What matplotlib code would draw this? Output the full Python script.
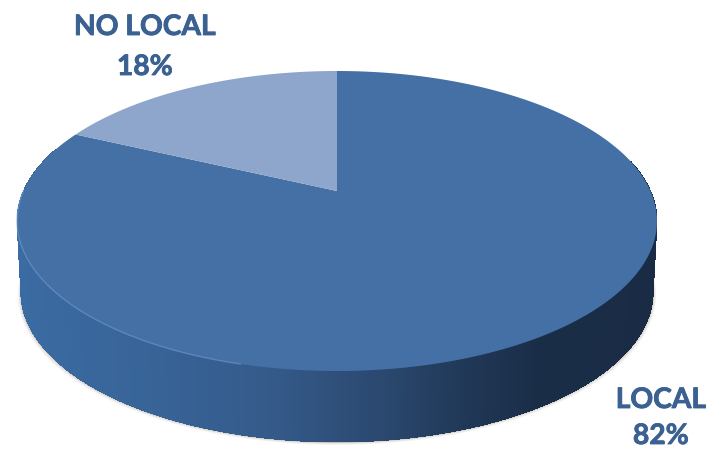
import numpy as np
import matplotlib
matplotlib.use("Agg")
import matplotlib.pyplot as plt
import matplotlib.patheffects as pe
from matplotlib.colors import LinearSegmentedColormap

categories = ["LOCAL", "NO LOCAL"]
shares = [82, 18]
slice_colors = ["#4470A6", "#8EA5CC"]
label_color = "#3A6191"

fig = plt.figure(figsize=(7.09, 4.52), dpi=100)
ax = fig.add_axes([0, 0, 1, 1])
ax.set_xlim(0, 709)
ax.set_ylim(452, 0)
ax.axis("off")

APEX = (337.0, 192.0)
RX, RY, K = 313.5, 144.0, 0.2
DEPTH = 71.0


def project(theta, r=1.0, dy=0.0, sx=1.0):
    """theta is clockwise from 12 o'clock on the pie disc."""
    u = r * np.sin(theta)
    v = r * np.cos(theta)
    w = 1 + K * v
    return APEX[0] + sx * RX * u / w, APEX[1] - RY * v / w + dy


# slice angles: NO LOCAL ends at 12 o'clock, LOCAL runs clockwise from it
local_end = 2 * np.pi * shares[0] / sum(shares)
th_local = np.linspace(0, local_end, 400)
th_nolocal = np.linspace(local_end, 2 * np.pi, 120)

# soft shadow below the side wall
th_all = np.linspace(np.pi * 0.40, np.pi * 1.62, 300)
for grow, alpha in [(3.0, 0.06), (2.0, 0.10), (1.0, 0.16)]:
    xb, yb = project(th_all, dy=DEPTH + grow, sx=0.988 + grow / 320)
    xt, yt = project(th_all[::-1])
    ax.fill(np.r_[xb, xt], np.r_[yb, yt], color="#6b6250", alpha=alpha, lw=0, zorder=1)

# side wall, shaded strip by strip; each strip overlaps the next to hide seams
side_cmap = LinearSegmentedColormap.from_list(
    "side",
    [(0.0, "#3A6BA2"), (0.22, "#386397"), (0.40, "#345A89"), (0.55, "#2C4A72"),
     (0.72, "#1F3654"), (0.82, "#1A2D47"), (1.0, "#1A2C45")],
)
th_side = np.linspace(np.pi * 1.60, np.pi * 0.44, 360)
for a, b in zip(th_side[:-1], th_side[1:]):
    seg = np.linspace(a, b - 0.03, 6)
    xt, yt = project(seg)
    xb, yb = project(seg, dy=DEPTH, sx=0.988)
    pos = (project(np.array([a]))[0][0] - 17) / 640
    ax.fill(np.r_[xt, xb[::-1]], np.r_[yt, yb[::-1]],
            color=side_cmap(float(np.clip(pos, 0, 1))), lw=0, zorder=2, antialiased=False)
# smooth outer edge of the wall
xb, yb = project(th_side, dy=DEPTH, sx=0.988)
ax.plot(xb, yb, color="#8a8a8a", lw=0.6, alpha=0.5, zorder=1.5)

# top face, drawn from the shares
x1, y1 = project(th_local)
ax.fill(np.r_[APEX[0], x1], np.r_[APEX[1], y1], color=slice_colors[0], lw=0, zorder=3)
x2, y2 = project(th_nolocal)
ax.fill(np.r_[APEX[0], x2], np.r_[APEX[1], y2], color=slice_colors[1], lw=0, zorder=3)

# light rim on the front-left edge
th_rim = np.linspace(np.pi * 1.08, np.pi * 1.50, 200)
xr, yr = project(th_rim)
ax.plot(xr, yr, color="#6E9AD0", lw=1.0, alpha=0.6, zorder=4)

text_kw = dict(family="Lato", fontweight="bold", color=label_color,
               fontsize=20.3, ha="center", va="center", zorder=5,
               path_effects=[pe.withStroke(linewidth=0.6, foreground=label_color)])
ax.text(145, 28, categories[1], **text_kw)
ax.text(145, 68, f"{shares[1]}%", **text_kw)
ax.text(661, 401, categories[0], **text_kw)
ax.text(661, 437, f"{shares[0]}%", **text_kw)

fig.savefig("out.png", dpi=100)
